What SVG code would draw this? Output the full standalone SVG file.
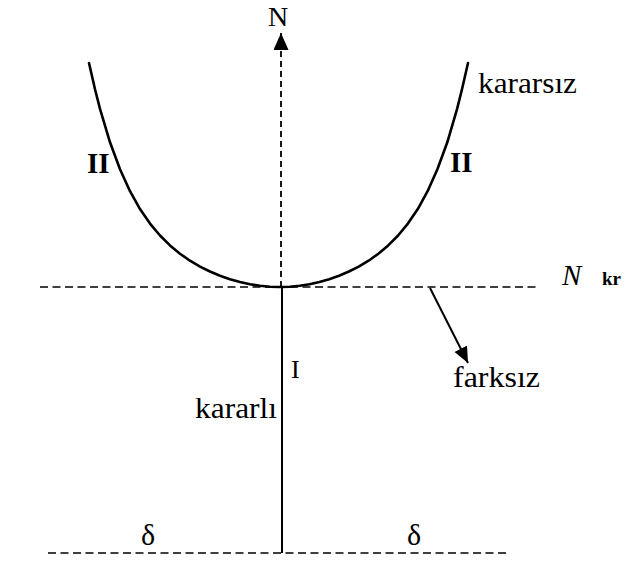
<svg xmlns="http://www.w3.org/2000/svg" width="625" height="564" viewBox="0 0 625 564">
<style>
.t{font-family:"Liberation Serif","Times New Roman",serif;fill:#000}
.dash{stroke:#000;stroke-width:1.6;fill:none;stroke-dasharray:8 4.5}
.vdash{stroke:#000;stroke-width:1.8;fill:none;stroke-dasharray:6 4}
.solid{stroke:#000;stroke-width:2;fill:none}
.curve{stroke:#000;stroke-width:2.6;fill:none;stroke-linejoin:round;stroke-linecap:round}
</style>
<defs>
<marker id="ahN" markerUnits="userSpaceOnUse" markerWidth="18" markerHeight="16" refX="17" refY="7.5" orient="auto"><path d="M0,0 L17,7.5 L0,15 z" fill="#000" stroke="none"/></marker>
<marker id="ahF" markerUnits="userSpaceOnUse" markerWidth="18" markerHeight="16" refX="16" refY="7" orient="auto"><path d="M0,0 L16,7 L0,14 z" fill="#000" stroke="none"/></marker>
</defs>
<rect width="625" height="564" fill="#fff"/>
<g id="connectors">
<line class="dash" x1="40" y1="287" x2="540" y2="287"/>
<line class="dash" x1="48" y1="553" x2="507" y2="553"/>
<line class="vdash" x1="281" y1="287" x2="281" y2="33" marker-end="url(#ahN)"/>
<line class="solid" x1="282" y1="287" x2="282" y2="553"/>
<line class="solid" x1="430" y1="288" x2="468" y2="363" marker-end="url(#ahF)"/>
</g>
<g id="curve">
<polyline class="curve" points="89,63 95,89.3 100,108.9 110,142.3 120,169.3 130,191.2 140,209.1 150,223.6 160,235.5 170,245.4 180,253.7 190,260.7 200,266.6 210,271.5 220,275.7 230,279.2 240,282 250,284.2 260,285.8 270,286.7 280,287 289.8,286.7 299.7,285.8 309.5,284.2 319.4,282 329.2,279.2 339,275.7 348.9,271.5 358.7,266.6 368.6,260.7 378.4,253.7 388.2,245.4 398.1,235.5 407.9,223.6 417.8,209.1 427.6,191.2 437.4,169.3 447.3,142.3 457.1,108.9 462,89.3 468,63"/>
</g>
<g id="label-N"><text class="t" x="268" y="26" font-size="28">N</text></g>
<g id="label-Nkr"><text class="t" x="562" y="285" font-size="29" font-style="italic">N</text><text class="t" x="602" y="285" font-size="19" font-weight="bold">kr</text></g>
<g id="label-kararsiz"><text class="t" x="478" y="93" font-size="29" textLength="99" lengthAdjust="spacingAndGlyphs">kararsız</text></g>
<g id="label-II-left"><text class="t" x="87" y="173" font-size="29" font-weight="bold">II</text></g>
<g id="label-II-right"><text class="t" x="450" y="172" font-size="29" font-weight="bold">II</text></g>
<g id="label-I"><text class="t" x="291" y="378" font-size="26">I</text></g>
<g id="label-kararli"><text class="t" x="195" y="418" font-size="29" textLength="82" lengthAdjust="spacingAndGlyphs">kararlı</text></g>
<g id="label-farksiz"><text class="t" x="453" y="387" font-size="29" textLength="87" lengthAdjust="spacingAndGlyphs">farksız</text></g>
<g id="label-delta-left"><text class="t" x="141" y="545" font-size="30">δ</text></g>
<g id="label-delta-right"><text class="t" x="407" y="545" font-size="30">δ</text></g>
</svg>
